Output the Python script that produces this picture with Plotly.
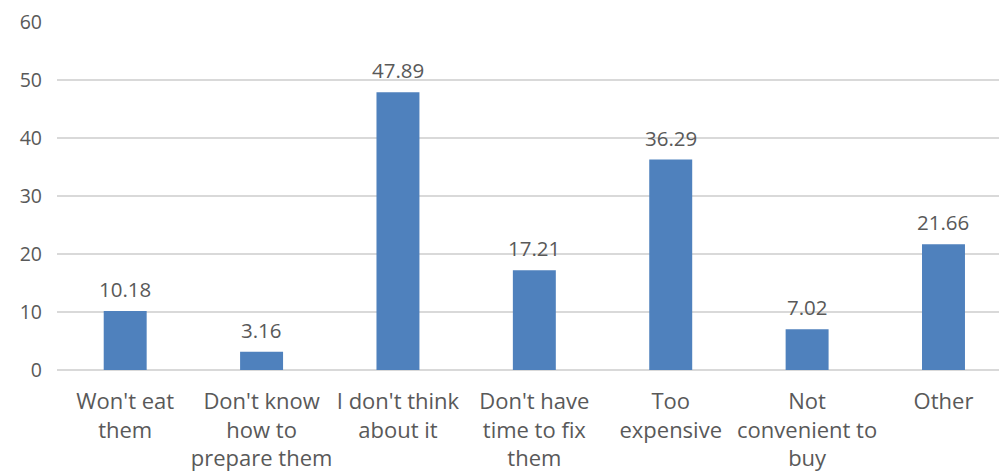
import plotly.graph_objects as go

categories = ["Won't eat<br>them", "Don't know<br>how to<br>prepare them", "I don't think<br>about it",
              "Don't have<br>time to fix<br>them", "Too<br>expensive", "Not<br>convenient to<br>buy", "Other"]
values = [10.18, 3.16, 47.89, 17.21, 36.29, 7.02, 21.66]
y_ticks = [0, 10, 20, 30, 40, 50, 60]

FONT = "Open Sans"
TXT = "#595959"

fig = go.Figure()
fig.add_trace(go.Bar(
    x=list(range(len(categories))), y=values,
    marker=dict(color="#4F81BD", line=dict(width=0)),
    width=0.315,
    hoverinfo="skip",
))

for i, v in enumerate(values):
    fig.add_annotation(x=i, y=v, text=f"{v:.2f}", showarrow=False,
                       yanchor="middle", xanchor="center", yshift=22,
                       font=dict(family=FONT, size=20.5, color=TXT))

fig.update_layout(
    width=999, height=471,
    margin=dict(l=57, r=0, t=22, b=101),
    paper_bgcolor="white", plot_bgcolor="white",
    showlegend=False,
    font=dict(family=FONT, size=19, color=TXT),
)
fig.update_xaxes(
    range=[-0.5, 6.407],
    tickmode="array", tickvals=list(range(len(categories))), ticktext=categories,
    showgrid=False, zeroline=False, showline=False, ticks="",
    ticklabelstandoff=16,
    tickfont=dict(family=FONT, size=22, color=TXT),
)
fig.update_yaxes(
    range=[0, 60], tickmode="array", tickvals=y_ticks,
    showgrid=True, gridcolor="#D9D9D9", gridwidth=1.5,
    zeroline=True, zerolinecolor="#D9D9D9", zerolinewidth=1.5,
    showline=False, ticks="",
    ticklabelstandoff=14,
    tickfont=dict(family=FONT, size=19.5, color=TXT),
)

fig.write_html("out.html")
